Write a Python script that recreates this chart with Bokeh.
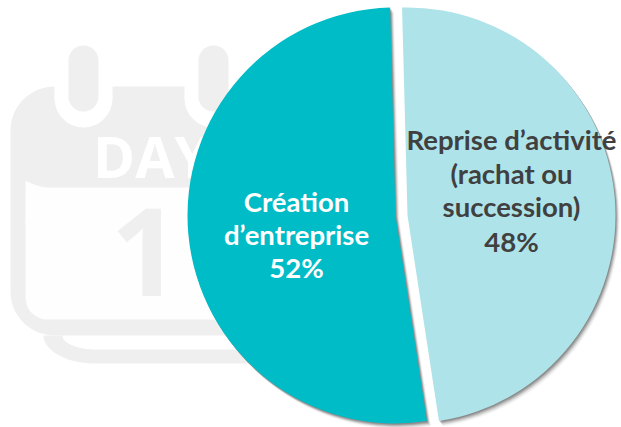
import numpy as np
from bokeh.plotting import figure
from bokeh.models import Range1d
from bokeh.core.properties import value
from bokeh.embed import file_html
from bokeh.resources import INLINE

categories = ["Reprise d’activité\n(rachat ou\nsuccession)", "Création\nd’entreprise"]
shares = [48, 52]
share_labels = ["48%", "52%"]
colors = ["#AEE4E9", "#00BCC6"]
text_colors = ["#404040", "#FFFFFF"]

W, H = 621, 427
GRAY = "#EFEFEF"
Y = lambda y: 427 - np.asarray(y, dtype=float)

p = figure(width=W, height=H, output_backend="svg", toolbar_location=None,
           x_range=Range1d(0, W), y_range=Range1d(427 - H, 427),
           min_border=0, outline_line_color=None)
p.axis.visible = False
p.grid.visible = False


def rounded(x0, y0, x1, y1, r):
    t = np.linspace(0, np.pi / 2, 16)
    xs = np.r_[x1 - r + r * np.sin(t), x1 - r + r * np.cos(t), x0 + r - r * np.sin(t), x0 + r - r * np.cos(t)]
    ys = np.r_[y0 + r - r * np.cos(t), y1 - r + r * np.sin(t), y1 - r + r * np.cos(t), y0 + r - r * np.sin(t)]
    return xs, Y(ys)


# calendar backdrop: second sheet
t = np.linspace(0, np.pi / 2, 20)
sx = np.r_[95 - 52 * np.cos(t), 300, 300, 95 - 33 * np.cos(t[::-1])]
sy = np.r_[335 + 28 * np.sin(t), 363, 349, 335 + 14 * np.sin(t[::-1])]
p.patch(sx, Y(sy), fill_color=GRAY, line_color=None)
# main sheet
xs, ys = rounded(10, 86, 286, 335, 44)
p.patch(xs, ys, fill_color=GRAY, line_color=None)
# white body of the sheet, with its curved upper edge
p.patch(*rounded(25, 200, 271, 319, 22), fill_color="#FEFEFE", line_color=None)
cx = np.linspace(25, 50, 16)
cy = 187 - 7 * ((50 - cx) / 25) ** 2
p.patch(np.r_[cx, 271, 271, 25], Y(np.r_[cy, 187, 225, 225]), fill_color="#FEFEFE", line_color=None)
# rings
for rx in (83, 213):
    p.patch(np.r_[rx - 29, rx - 29, rx + 29, rx + 29], Y([80, 98, 98, 80]), fill_color="white", line_color=None)
    p.circle([rx], Y([98]), radius=29, fill_color="white", line_color=None)
    p.patch(*rounded(rx - 15, 45, rx + 15, 111, 15), fill_color=GRAY, line_color=None)
p.text([151], Y([155]), text=["DAY"], text_color="white", text_font=value("Open Sans"),
       text_font_style="bold", text_font_size="57px", text_align="center", text_baseline="middle")
p.text([145], Y([251]), text=["1"], text_color=GRAY, text_font=value("Open Sans"),
       text_font_style="bold", text_font_size="122px", text_align="center", text_baseline="middle")

# pie
centres = [(407, 215), (395, 215)]
radius = 208
fractions = np.array(shares) / sum(shares) * 2 * np.pi
ends = np.deg2rad(91.5) - np.r_[0, np.cumsum(fractions)[:-1]]
starts = ends - fractions

for off, a in [(6, .03), (5, .05), (4, .08), (3, .12), (2, .14), (1, .14)]:
    for (cx0, cy0), s, e in zip(centres, starts, ends):
        p.wedge([cx0 + off * .7], Y([cy0 + off * .9]), radius=radius, start_angle=s, end_angle=e,
                fill_color="black", fill_alpha=a, line_color=None)
for (cx0, cy0), s, e, c in zip(centres, starts, ends, colors):
    p.wedge([cx0], Y([cy0]), radius=radius, start_angle=s, end_angle=e, fill_color=c, line_color=None)

label_pos = [(511, [139, 173, 206, 241]), (296, [201, 234, 267])]
for (lx, lys), cat, sl, tc in zip(label_pos, categories, share_labels, text_colors):
    lines = cat.split("\n") + [sl]
    p.text([lx] * len(lines), Y(lys), text=lines, text_color=tc, text_font=value("Lato"),
           text_font_style="bold", text_font_size="27.5px", text_align="center", text_baseline="middle")

open("out.html", "w").write(file_html(p, INLINE))
